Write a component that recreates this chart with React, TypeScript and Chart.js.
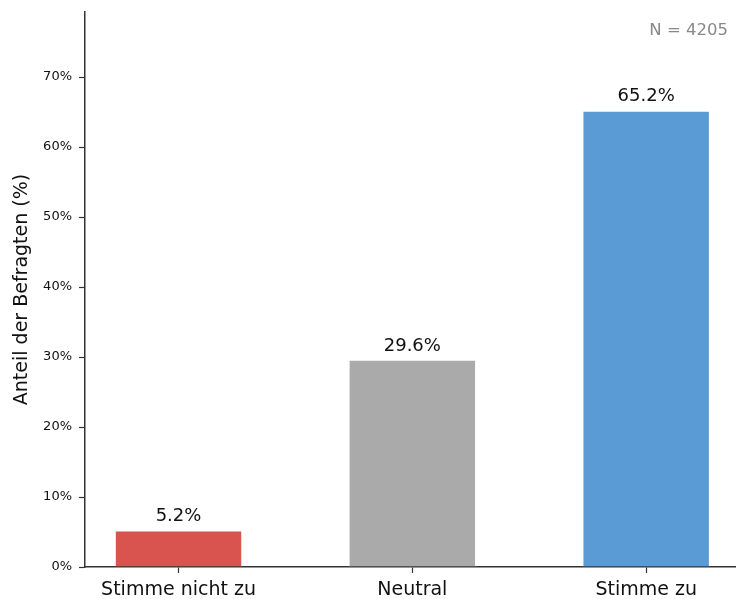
import React, { useEffect, useRef } from "react";
import { Chart, registerables } from "chart.js";

Chart.register(...registerables);

const categories = ["Stimme nicht zu", "Neutral", "Stimme zu"];
const values = [5.2, 29.6, 65.2];
const barColors = ["#d9534f", "#aaaaaa", "#5b9bd5"];
const yTicks = [0, 10, 20, 30, 40, 50, 60, 70];
const sampleLabel = "N = 4205";

const FONT = "'DejaVu Sans', sans-serif";

const labelPlugin = {
  id: "valueLabels",
  afterDatasetsDraw(chart: any) {
    const ctx = chart.ctx;
    const xs = chart.scales.x;
    const ys = chart.scales.y;
    ctx.save();
    ctx.font = `18px ${FONT}`;
    ctx.fillStyle = "#111";
    ctx.textAlign = "center";
    ctx.textBaseline = "bottom";
    values.forEach((v, i) => {
      ctx.fillText(`${v.toFixed(1)}%`, xs.getPixelForValue(i), ys.getPixelForValue(v) - 5);
    });
    ctx.font = `16.5px ${FONT}`;
    ctx.fillStyle = "#888";
    ctx.textAlign = "right";
    ctx.textBaseline = "middle";
    ctx.fillText(sampleLabel, chart.chartArea.right - 7, 31);
    ctx.restore();
  },
};

export default function App() {
  const ref = useRef<HTMLCanvasElement | null>(null);
  useEffect(() => {
    document.body.style.margin = "0";
    const chart = new Chart(ref.current as HTMLCanvasElement, {
      type: "bar",
      data: {
        datasets: [
          {
            data: values.map((v, i) => ({ x: i, y: v })) as any,
            backgroundColor: barColors,
            borderColor: "rgba(255,255,255,0.5)",
            borderWidth: 1,
            categoryPercentage: 1,
            barPercentage: 0.545,
          },
        ],
      },
      options: {
        animation: false,
        responsive: false,
        maintainAspectRatio: false,
        layout: { padding: { top: 12, right: 1, left: 11, bottom: 0 } },
        plugins: { legend: { display: false }, tooltip: { enabled: false } },
        scales: {
          x: {
            type: "linear",
            offset: false,
            min: -0.4,
            max: 2.38,
            afterBuildTicks: (s: any) => {
              s.ticks = categories.map((_, i) => ({ value: i }));
            },
            afterFit: (s: any) => {
              s.height = 32;
              s.paddingLeft = 0;
              s.paddingRight = 0;
            },
            ticks: {
              callback: (v: any) => categories[v as number] ?? "",
              font: { family: FONT, size: 19 },
              color: "#111",
              padding: 6,
              maxRotation: 0,
              autoSkip: false,
            },
            grid: { offset: false, drawOnChartArea: false, tickLength: 6, color: "#333", tickWidth: 1.2 },
            border: { color: "#333", width: 1.5 },
          },
          y: {
            type: "linear",
            min: 0,
            max: 79.3,
            afterBuildTicks: (s: any) => {
              s.ticks = yTicks.map((v) => ({ value: v }));
            },
            afterFit: (s: any) => {
              s.width = 74;
              s.paddingTop = 0;
              s.paddingBottom = 0;
            },
            ticks: {
              callback: (v: any) => `${v}%`,
              font: { family: FONT, size: 13 },
              color: "#111",
              padding: 7,
            },
            title: {
              display: true,
              text: "Anteil der Befragten (%)",
              font: { family: FONT, size: 19 },
              color: "#111",
              padding: { top: 0, bottom: 4 },
            },
            grid: { drawOnChartArea: false, tickLength: 6, color: "#333", tickWidth: 1.2 },
            border: { color: "#333", width: 1.5 },
          },
        },
      },
      plugins: [labelPlugin],
    });
    return () => chart.destroy();
  }, []);
  return (
    <div style={{ width: 736, height: 599 }}>
      <canvas ref={ref} width={736} height={599} style={{ display: "block" }} />
    </div>
  );
}
